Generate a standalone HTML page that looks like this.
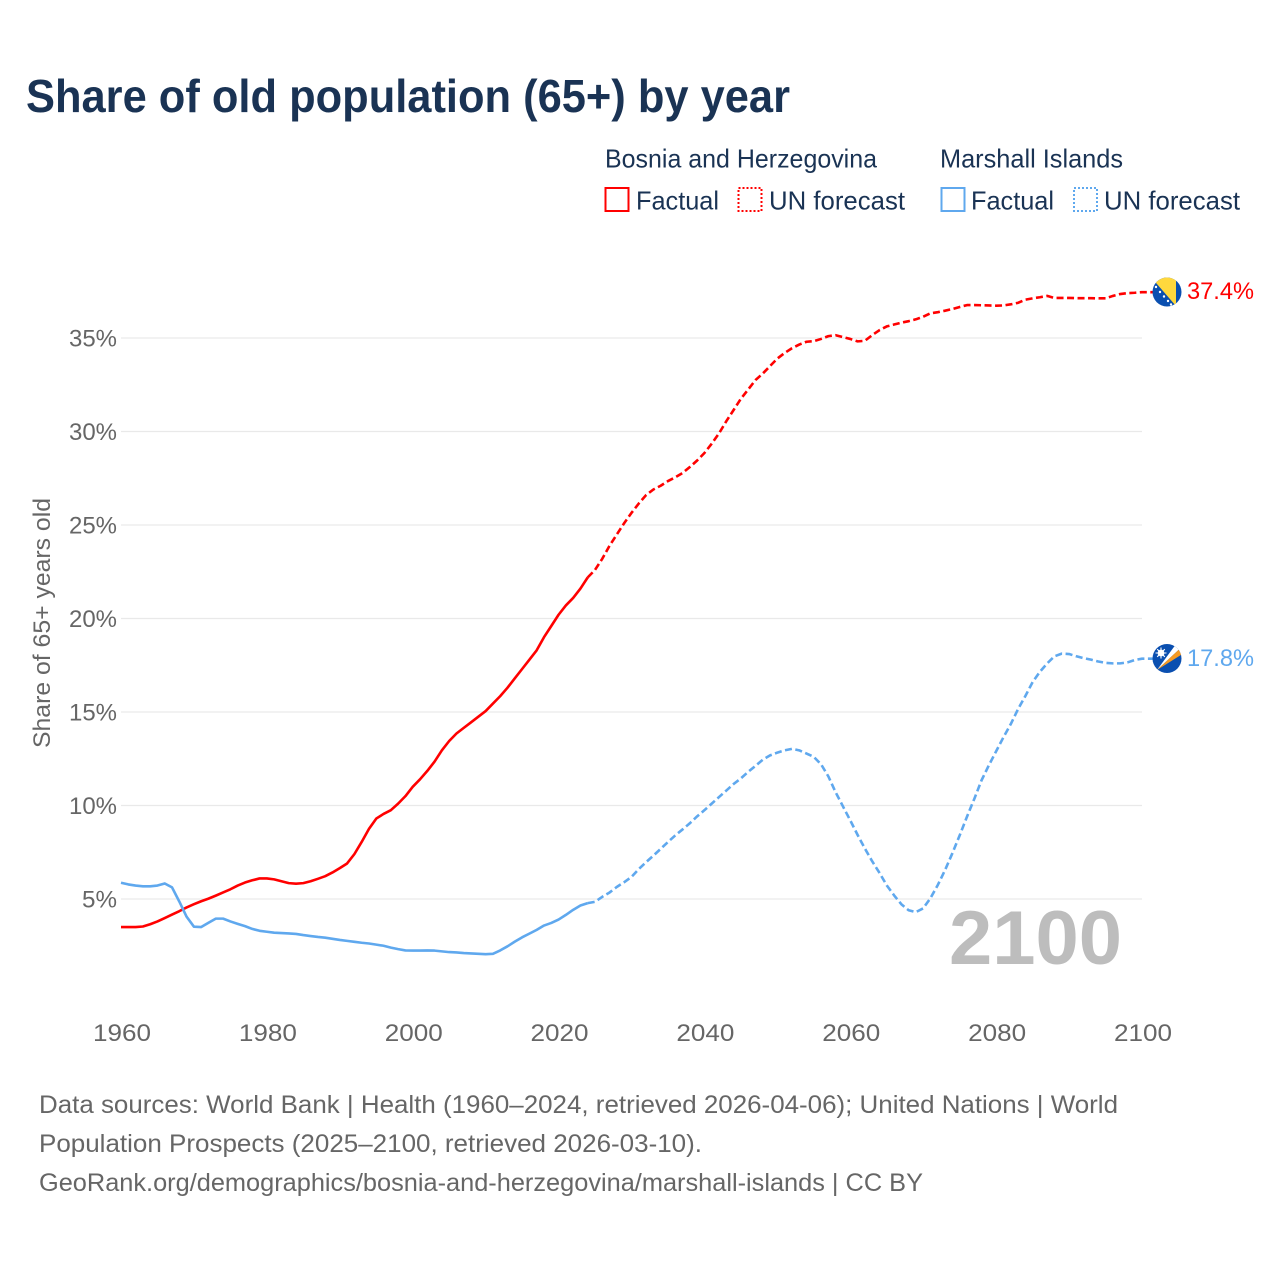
<!DOCTYPE html>
<html>
<head>
<meta charset="utf-8">
<title>Share of old population (65+) by year</title>
<style>
html,body{margin:0;padding:0;background:#fff;}
svg{display:block;font-family:"Liberation Sans",sans-serif;}
</style>
</head>
<body>
<svg id="chart" xmlns="http://www.w3.org/2000/svg" width="1280" height="1280" viewBox="0 0 1280 1280">
  <rect width="1280" height="1280" fill="#fff"/>
  <text x="26" y="112" font-size="46" font-weight="700" fill="#1a3354" textLength="764" lengthAdjust="spacingAndGlyphs">Share of old population (65+) by year</text>

  <g font-size="26" fill="#1a3354">
    <text x="605" y="167.5" textLength="272" lengthAdjust="spacingAndGlyphs">Bosnia and Herzegovina</text>
    <text x="940" y="167.5" textLength="183" lengthAdjust="spacingAndGlyphs">Marshall Islands</text>
    <rect x="605.5" y="188" width="23" height="23" fill="none" stroke="#ff0000" stroke-width="2"/>
    <text x="636" y="209.5" textLength="83" lengthAdjust="spacingAndGlyphs">Factual</text>
    <rect x="738.5" y="188" width="23" height="23" fill="none" stroke="#ff0000" stroke-width="2" stroke-dasharray="2 2"/>
    <text x="769" y="209.5" textLength="136" lengthAdjust="spacingAndGlyphs">UN forecast</text>
    <rect x="941.5" y="188" width="23" height="23" fill="none" stroke="#5fa8ee" stroke-width="2"/>
    <text x="971" y="209.5" textLength="83" lengthAdjust="spacingAndGlyphs">Factual</text>
    <rect x="1074" y="188" width="23" height="23" fill="none" stroke="#5fa8ee" stroke-width="2" stroke-dasharray="2 2"/>
    <text x="1104" y="209.5" textLength="136" lengthAdjust="spacingAndGlyphs">UN forecast</text>
  </g>

  <g id="grid"></g>
  <g id="yticks" font-size="24" fill="#666" text-anchor="end"></g>
  <g id="xticks" font-size="24" fill="#666" text-anchor="middle"></g>
  <text transform="translate(50,748) rotate(-90)" font-size="24" fill="#666" textLength="250" lengthAdjust="spacingAndGlyphs">Share of 65+ years old</text>
  <text x="1122" y="964" text-anchor="end" font-size="76" font-weight="700" fill="#bdbdbd" textLength="173" lengthAdjust="spacingAndGlyphs">2100</text>

  <g id="series"></g>

  <defs>
    <clipPath id="clip-bosnia"><circle cx="1167" cy="292" r="14.5"/></clipPath>
    <clipPath id="clip-marshall"><circle cx="1167" cy="658.5" r="14.5"/></clipPath>
  </defs>
  <g clip-path="url(#clip-bosnia)">
    <rect x="1150" y="275" width="34" height="34" fill="#0a4fb0"/>
    <polygon points="1150,276 1176,276 1176,306" fill="#ffd83d"/>
    <g fill="#fff">
      <circle cx="1156" cy="287" r="1.2"/><circle cx="1160" cy="292" r="1.2"/><circle cx="1164" cy="296.5" r="1.2"/><circle cx="1168" cy="301" r="1.2"/><circle cx="1171" cy="304.5" r="1.2"/>
    </g>
  </g>
  <g clip-path="url(#clip-marshall)">
    <rect x="1150" y="642" width="34" height="34" fill="#0a4fb0"/>
    <polygon points="1157,670 1175,645.5 1179.5,649" fill="#fff"/>
    <polygon points="1157,670 1179.5,649 1182.5,654" fill="#f59a23"/>
    <circle cx="1161" cy="653" r="3.4" fill="#fff"/>
    <path d="M1161 647.5V658.5M1155.5 653H1166.5M1157.2 649.2L1164.8 656.8M1164.8 649.2L1157.2 656.8" stroke="#fff" stroke-width="1.1"/>
  </g>
  <text x="1187" y="299" font-size="24" fill="#ff0000" textLength="67" lengthAdjust="spacingAndGlyphs">37.4%</text>
  <text x="1187" y="666" font-size="24" fill="#5fa8ee" textLength="67" lengthAdjust="spacingAndGlyphs">17.8%</text>

  <g font-size="25" fill="#666">
    <text x="39" y="1113" textLength="1079" lengthAdjust="spacingAndGlyphs">Data sources: World Bank | Health (1960–2024, retrieved 2026-04-06); United Nations | World</text>
    <text x="39" y="1152" textLength="663" lengthAdjust="spacingAndGlyphs">Population Prospects (2025–2100, retrieved 2026-03-10).</text>
    <text x="39" y="1191" textLength="884" lengthAdjust="spacingAndGlyphs">GeoRank.org/demographics/bosnia-and-herzegovina/marshall-islands | CC BY</text>
  </g>
</svg>
<script>
const yTickValues = [5, 10, 15, 20, 25, 30, 35];
const xTickYears = [1960, 1980, 2000, 2020, 2040, 2060, 2080, 2100];
const factualStartYear = 1960;
const forecastStartYear = 2025;
const bosniaFactual = [3.5,3.5,3.5,3.53,3.65,3.8,3.98,4.17,4.35,4.55,4.72,4.88,5.02,5.18,5.35,5.52,5.72,5.88,6.0,6.1,6.1,6.05,5.95,5.85,5.82,5.85,5.95,6.08,6.22,6.42,6.65,6.9,7.4,8.05,8.75,9.3,9.55,9.75,10.1,10.5,11.0,11.4,11.85,12.35,12.95,13.45,13.85,14.15,14.45,14.75,15.05,15.45,15.85,16.3,16.8,17.3,17.8,18.3,19.0,19.6,20.2,20.7,21.1,21.6,22.2];
const bosniaForecast = [22.6,23.2,23.9,24.5,25.1,25.65,26.15,26.6,26.9,27.1,27.35,27.55,27.78,28.1,28.45,28.85,29.35,29.9,30.55,31.15,31.75,32.25,32.75,33.1,33.5,33.9,34.2,34.45,34.65,34.8,34.83,34.95,35.1,35.15,35.05,34.95,34.82,34.85,35.15,35.42,35.62,35.72,35.82,35.9,36.0,36.14,36.32,36.38,36.46,36.55,36.66,36.76,36.76,36.75,36.74,36.73,36.74,36.8,36.88,37.05,37.12,37.18,37.25,37.14,37.14,37.14,37.13,37.13,37.13,37.12,37.12,37.25,37.35,37.4,37.42,37.45];
const marshallFactual = [5.87,5.78,5.72,5.68,5.68,5.72,5.83,5.62,4.86,4.05,3.52,3.5,3.73,3.95,3.95,3.8,3.67,3.55,3.4,3.3,3.25,3.2,3.18,3.16,3.13,3.07,3.02,2.97,2.93,2.87,2.81,2.76,2.71,2.66,2.62,2.56,2.5,2.4,2.32,2.25,2.24,2.24,2.25,2.24,2.2,2.16,2.14,2.11,2.09,2.07,2.05,2.07,2.25,2.47,2.72,2.95,3.15,3.35,3.58,3.72,3.9,4.15,4.42,4.65,4.78];
const marshallForecast = [4.85,5.12,5.35,5.65,5.9,6.18,6.6,6.97,7.32,7.68,8.05,8.4,8.72,9.05,9.42,9.75,10.1,10.45,10.8,11.15,11.45,11.8,12.12,12.45,12.68,12.83,12.95,13.03,12.95,12.78,12.6,12.2,11.55,10.7,9.95,9.2,8.43,7.7,7.02,6.4,5.73,5.2,4.72,4.4,4.3,4.5,5.05,5.75,6.55,7.45,8.4,9.4,10.35,11.35,12.15,12.9,13.65,14.35,15.15,15.85,16.6,17.15,17.6,17.98,18.12,18.1,17.98,17.88,17.8,17.7,17.63,17.6,17.6,17.65,17.78,17.85];
const flagLeaderEndYear = 2101.5;

const NS = 'http://www.w3.org/2000/svg';
function xScale(year) { return 121 + (year - 1960) * (1142 - 121) / 140; }
function yScale(v) { return 992.5 - v * 18.7; }
function linePath(points) {
  return points.map(function (p, i) {
    return (i ? 'L' : 'M') + xScale(p[0]).toFixed(2) + ' ' + yScale(p[1]).toFixed(2);
  }).join('');
}
function toPoints(start, values) {
  return values.map(function (v, i) { return [start + i, v]; });
}

const gridGroup = document.getElementById('grid');
const yGroup = document.getElementById('yticks');
yTickValues.forEach(function (v) {
  const line = document.createElementNS(NS, 'line');
  
  
  line.setAttribute('x1', xScale(1960));
  line.setAttribute('x2', xScale(2100));
  line.setAttribute('y1', yScale(v));
  line.setAttribute('y2', yScale(v));
  line.setAttribute('stroke', '#e9e9e9');
  line.setAttribute('stroke-width', '1.2');
  gridGroup.appendChild(line);
  const label = document.createElementNS(NS, 'text');
  
  
  label.setAttribute('x', 117);
  label.setAttribute('y', yScale(v) + 8.5);
  label.setAttribute('textLength', v < 10 ? 35 : 48);
  label.setAttribute('lengthAdjust', 'spacingAndGlyphs');
  label.textContent = v + '%';
  yGroup.appendChild(label);
});

const xGroup = document.getElementById('xticks');
xTickYears.forEach(function (year) {
  const label = document.createElementNS(NS, 'text');
  
  
  label.setAttribute('x', xScale(year) + 1);
  label.setAttribute('y', 1041);
  label.setAttribute('textLength', 58);
  label.setAttribute('lengthAdjust', 'spacingAndGlyphs');
  label.textContent = year;
  xGroup.appendChild(label);
});

const seriesGroup = document.getElementById('series');
function addLine(points, color, dashed) {
  const path = document.createElementNS(NS, 'path');
  path.setAttribute('d', linePath(points));
  path.setAttribute('fill', 'none');
  path.setAttribute('stroke', color);
  path.setAttribute('stroke-width', '2.6');
  path.setAttribute('stroke-linejoin', 'round');
  if (dashed) path.setAttribute('stroke-dasharray', '7 3.5');
  seriesGroup.appendChild(path);
  return path;
}
function forecastPoints(factualPoints, forecastValues) {
  const last = forecastValues[forecastValues.length - 1];
  return [factualPoints[factualPoints.length - 1]]
    .concat(toPoints(forecastStartYear, forecastValues))
    .concat([[flagLeaderEndYear, last]]);
}
const bosniaF = toPoints(factualStartYear, bosniaFactual);
const marshallF = toPoints(factualStartYear, marshallFactual);
const p1 = addLine(bosniaF, '#ff0000', false);


const p2 = addLine(forecastPoints(bosniaF, bosniaForecast), '#ff0000', true);


const p3 = addLine(marshallF, '#5fa8ee', false);


const p4 = addLine(forecastPoints(marshallF, marshallForecast), '#5fa8ee', true);


</script>
</body>
</html>
